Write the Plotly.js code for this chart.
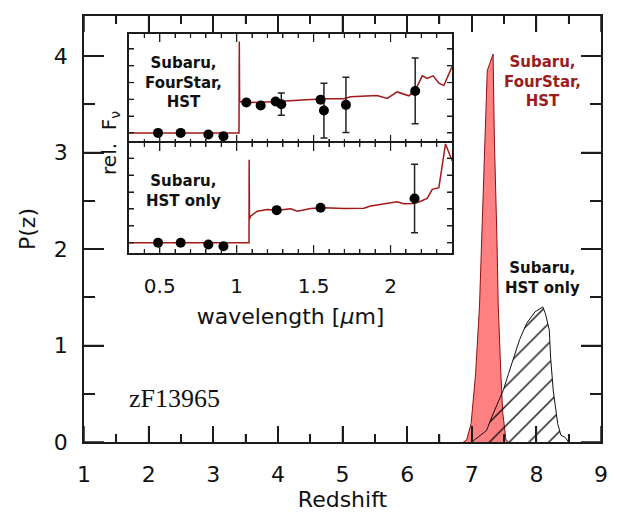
<!DOCTYPE html>
<html>
<head>
<meta charset="utf-8">
<script src="https://cdn.plot.ly/plotly-3.0.1.min.js"></script>
<style>html,body{margin:0;padding:0;background:#fff;} .modebar-container{display:none !important;}</style>
</head>
<body>
<div id="chart" style="width:617px;height:516px;"></div>
<script>
// ---- Main panel: photometric redshift probability distributions ----
const zBright = [6.87, 6.92, 6.99, 7.06, 7.12, 7.155, 7.21, 7.24, 7.33, 7.35, 7.39, 7.41, 7.45, 7.48, 7.53, 7.57];
const pzBright = [0, 0.02, 0.19, 0.71, 1.41, 2.10, 3.14, 3.85, 4.02, 3.14, 2.10, 1.41, 0.71, 0.30, 0.02, 0];

const zFaint = [7.00, 7.10, 7.23, 7.31, 7.49, 7.57, 7.65, 7.74, 7.85, 7.98, 8.10, 8.14, 8.20, 8.22, 8.26, 8.33, 8.38, 8.44, 8.50];
const pzFaint = [0, 0.05, 0.12, 0.26, 0.54, 0.71, 0.88, 1.06, 1.23, 1.35, 1.40, 1.33, 1.16, 0.88, 0.54, 0.19, 0.07, 0.05, 0];

// ---- Inset top: Subaru + FourStar + HST photometry and best-fit SED ----
const lamAll = [0.489, 0.636, 0.816, 0.914, 1.063, 1.156, 1.253, 1.29, 1.545, 1.567, 1.71, 2.16];
const fluxAll = [0, 0, -0.1, -0.2, 1.81, 1.63, 1.87, 1.71, 1.97, 1.33, 1.67, 2.50];
const errAll = [0, 0, 0, 0, 0, 0, 0, 0.66, 0, 1.63, 1.65, 1.96];

const lamModelA = [0.30, 1.015, 1.017, 1.019, 1.04, 1.091, 1.264, 1.394, 1.567, 1.697, 1.740, 1.913, 1.978, 2.043, 2.086, 2.119, 2.162, 2.206, 2.238, 2.277, 2.314, 2.346, 2.40];
const fluxModelA = [0, 0, 5.44, 1.85, 1.87, 1.81, 1.87, 1.95, 2.03, 2.03, 2.15, 2.23, 2.05, 2.44, 2.33, 2.21, 2.56, 3.40, 3.24, 3.40, 2.96, 2.82, 3.95];

// ---- Inset bottom: Subaru + HST only ----
const lamSub = [0.489, 0.636, 0.816, 0.914, 1.26, 1.545, 2.156];
const fluxSub = [0, 0, -0.1, -0.2, 1.93, 2.07, 2.62];
const errSub = [0, 0, 0, 0, 0, 0, 2.02];

const lamModelB = [0.30, 1.080, 1.081, 1.083, 1.090, 1.134, 1.199, 1.264, 1.351, 1.394, 1.481, 1.567, 1.697, 1.827, 1.870, 2.043, 2.086, 2.156, 2.195, 2.238, 2.271, 2.314, 2.357, 2.40];
const fluxModelB = [0, 0, 4.91, 1.40, 1.57, 1.87, 1.97, 1.93, 2.01, 1.87, 2.03, 2.07, 2.03, 2.05, 2.17, 2.43, 2.31, 2.33, 2.46, 2.62, 3.16, 3.26, 5.84, 4.85];

const insetTicks = ['0.5', '1', '1.5', '2'];
const insetTickVals = [0.5, 1, 1.5, 2];

const FONT = 'DejaVu Sans, Liberation Sans, sans-serif';
const DARKRED = '#9b1c1c';
const MODEL = '#a31818';
const AX = '#1c1c1c';

const X_RANGE = [1, 9], Y_RANGE = [0, 4.415];
const L_RANGE = [0.3, 2.4], F_RANGE = [-0.6, 5.9];

// ---- Frame tick marks (axis decoration) built from axis ranges and pixel lengths ----
const W = 617 - 84 - 16, H = 516 - 16 - 74;
const pxX = W / (X_RANGE[1] - X_RANGE[0]), pxY = H / (Y_RANGE[1] - Y_RANGE[0]);
const insetW = (0.712 - 0.087) * W;
const pxL = insetW / (L_RANGE[1] - L_RANGE[0]);
const pxF2 = (0.958 - 0.702) * H / (F_RANGE[1] - F_RANGE[0]);
const pxF3 = (0.702 - 0.4437) * H / (F_RANGE[1] - F_RANGE[0]);

function seg(o, x0, y0, x1, y1) { o.x.push(x0, x1, null); o.y.push(y0, y1, null); }
const mainTicks = { x: [], y: [] };
for (let k = 1; k <= 9; k++) {
  seg(mainTicks, k, Y_RANGE[0], k, Y_RANGE[0] + 16 / pxY);
  seg(mainTicks, k, Y_RANGE[1], k, Y_RANGE[1] - 16 / pxY);
  if (k < 9) {
    seg(mainTicks, k + 0.5, Y_RANGE[0], k + 0.5, Y_RANGE[0] + 8 / pxY);
    seg(mainTicks, k + 0.5, Y_RANGE[1], k + 0.5, Y_RANGE[1] - 8 / pxY);
  }
}
for (let k = 0; k <= 4; k++) {
  seg(mainTicks, X_RANGE[0], k, X_RANGE[0] + 20 / pxX, k);
  seg(mainTicks, X_RANGE[1], k, X_RANGE[1] - 20 / pxX, k);
  if (k < 4) {
    seg(mainTicks, X_RANGE[0], k + 0.5, X_RANGE[0] + 11 / pxX, k + 0.5);
    seg(mainTicks, X_RANGE[1], k + 0.5, X_RANGE[1] - 11 / pxX, k + 0.5);
  }
}
function insetTickSet(pxF) {
  const o = { x: [], y: [] };
  for (let k = 4; k <= 23; k++) {
    const v = k / 10;
    const len = (k % 5 === 0 ? 8 : 4) / pxF;
    seg(o, v, F_RANGE[0], v, F_RANGE[0] + len);
    seg(o, v, F_RANGE[1], v, F_RANGE[1] - len);
  }
  for (let k = 0; k <= 5; k++) {
    seg(o, L_RANGE[0], k, L_RANGE[0] + 5 / pxL, k);
    seg(o, L_RANGE[1], k, L_RANGE[1] - 5 / pxL, k);
  }
  return o;
}
const ticks2 = insetTickSet(pxF2), ticks3 = insetTickSet(pxF3);

const traces = [
  { x: mainTicks.x, y: mainTicks.y, type: 'scatter', mode: 'lines', line: { color: AX, width: 1.5 },
    xaxis: 'x', yaxis: 'y', hoverinfo: 'skip', showlegend: false, connectgaps: false },
  { x: ticks2.x, y: ticks2.y, type: 'scatter', mode: 'lines', line: { color: AX, width: 1.2 },
    xaxis: 'x2', yaxis: 'y2', hoverinfo: 'skip', showlegend: false, connectgaps: false },
  { x: ticks3.x, y: ticks3.y, type: 'scatter', mode: 'lines', line: { color: AX, width: 1.2 },
    xaxis: 'x3', yaxis: 'y3', hoverinfo: 'skip', showlegend: false, connectgaps: false },
  { x: zBright, y: pzBright, type: 'scatter', mode: 'lines', fill: 'tozeroy',
    fillcolor: 'rgb(255,128,128)', line: { color: '#8a1010', width: 1 },
    xaxis: 'x', yaxis: 'y', hoverinfo: 'skip', showlegend: false },
  { x: zFaint, y: pzFaint, type: 'scatter', mode: 'lines', fill: 'tozeroy',
    fillcolor: 'rgba(0,0,0,0)',
    fillpattern: { shape: '/', fgcolor: '#111', bgcolor: 'rgba(0,0,0,0)', size: 14, solidity: 0.1 },
    line: { color: '#111', width: 1 },
    xaxis: 'x', yaxis: 'y', hoverinfo: 'skip', showlegend: false },
  { x: lamModelA, y: fluxModelA, type: 'scatter', mode: 'lines',
    line: { color: MODEL, width: 1.5 }, xaxis: 'x2', yaxis: 'y2', showlegend: false },
  { x: lamAll, y: fluxAll, type: 'scatter', mode: 'markers',
    marker: { color: '#000', size: 10 },
    error_y: { type: 'data', array: errAll, visible: true, color: '#222', thickness: 1.5, width: 3.5 },
    xaxis: 'x2', yaxis: 'y2', showlegend: false },
  { x: lamModelB, y: fluxModelB, type: 'scatter', mode: 'lines',
    line: { color: MODEL, width: 1.5 }, xaxis: 'x3', yaxis: 'y3', showlegend: false },
  { x: lamSub, y: fluxSub, type: 'scatter', mode: 'markers',
    marker: { color: '#000', size: 10 },
    error_y: { type: 'data', array: errSub, visible: true, color: '#222', thickness: 1.5, width: 3.5 },
    xaxis: 'x3', yaxis: 'y3', showlegend: false }
];

function insetX() {
  return {
    range: L_RANGE, showgrid: false, zeroline: false,
    showline: true, linecolor: AX, linewidth: 1.5, mirror: 'ticks',
    ticks: 'inside', ticklen: 8, tickwidth: 1.3, tickcolor: AX,
    tickvals: insetTickVals, ticktext: insetTicks,
    minor: { dtick: 0.1, tick0: 0.3, ticks: 'inside', ticklen: 4, tickwidth: 1.2, tickcolor: AX }
  };
}
function insetY() {
  return {
    range: F_RANGE, showgrid: false, zeroline: false,
    showline: true, linecolor: AX, linewidth: 1.5, mirror: 'ticks',
    ticks: 'inside', ticklen: 5, tickwidth: 1.2, tickcolor: AX,
    dtick: 1, tick0: 0, showticklabels: false
  };
}

const layout = {
  width: 617, height: 516,
  margin: { l: 84, r: 16, t: 16, b: 74 },
  paper_bgcolor: '#fff', plot_bgcolor: '#fff',
  font: { family: FONT, color: '#111' },
  showlegend: false,
  xaxis: {
    domain: [0, 1], range: X_RANGE, showgrid: false, zeroline: false,
    showline: true, linecolor: AX, linewidth: 1.6, mirror: 'ticks',
    ticks: 'inside', ticklen: 16, tickwidth: 1.5, tickcolor: AX,
    dtick: 1, tick0: 1, ticklabelstandoff: 12,
    tickfont: { family: FONT, size: 22, color: '#111' },
    minor: { dtick: 0.5, ticks: 'inside', ticklen: 8, tickwidth: 1.5, tickcolor: AX },
    title: { text: 'Redshift', font: { family: FONT, size: 22, color: '#111' }, standoff: 4 }
  },
  yaxis: {
    domain: [0, 1], range: Y_RANGE, showgrid: false, zeroline: false,
    showline: true, linecolor: AX, linewidth: 1.6, mirror: 'ticks',
    ticks: 'inside', ticklen: 20, tickwidth: 1.5, tickcolor: AX,
    dtick: 1, tick0: 0, ticklabelstandoff: 10,
    tickfont: { family: FONT, size: 22, color: '#111' },
    minor: { dtick: 0.5, ticks: 'inside', ticklen: 11, tickwidth: 1.5, tickcolor: AX },
    title: { text: 'P(z)', font: { family: FONT, size: 22, color: '#111' }, standoff: 12 }
  },
  xaxis2: Object.assign(insetX(), { domain: [0.087, 0.712], anchor: 'y2', showticklabels: false }),
  yaxis2: Object.assign(insetY(), { domain: [0.702, 0.958], anchor: 'x2' }),
  xaxis3: Object.assign(insetX(), {
    domain: [0.087, 0.712], anchor: 'y3', showticklabels: true,
    ticklabelstandoff: 14,
    tickfont: { family: FONT, size: 20, color: '#111' },
    title: { text: 'wavelength [<i>µ</i>m]', font: { family: FONT, size: 22, color: '#111' }, standoff: 12 }
  }),
  yaxis3: Object.assign(insetY(), { domain: [0.4437, 0.702], anchor: 'x3' }),
  annotations: [
    { xref: 'paper', yref: 'paper', x: 0.0503, y: 0.702, text: 'rel.  F<sub>ν</sub>',
      textangle: -90, showarrow: false, xanchor: 'center', yanchor: 'middle',
      font: { family: FONT, size: 20, color: '#111' } },
    { xref: 'paper', yref: 'paper', x: 0.1915, y: 0.845, text: 'Subaru,<br>FourStar,<br>HST',
      showarrow: false, xanchor: 'center', yanchor: 'middle', align: 'center',
      font: { family: FONT, size: 15, color: '#111', weight: 'bold' } },
    { xref: 'paper', yref: 'paper', x: 0.1915, y: 0.589, text: 'Subaru,<br>HST only',
      showarrow: false, xanchor: 'center', yanchor: 'middle', align: 'center',
      font: { family: FONT, size: 15, color: '#111', weight: 'bold' } },
    { xref: 'paper', yref: 'paper', x: 0.886, y: 0.846, text: 'Subaru,<br>FourStar,<br>HST',
      showarrow: false, xanchor: 'center', yanchor: 'middle', align: 'center',
      font: { family: FONT, size: 15, color: DARKRED, weight: 'bold' } },
    { xref: 'paper', yref: 'paper', x: 0.886, y: 0.385, text: 'Subaru,<br>HST only',
      showarrow: false, xanchor: 'center', yanchor: 'middle', align: 'center',
      font: { family: FONT, size: 15, color: '#111', weight: 'bold' } },
    { xref: 'paper', yref: 'paper', x: 0.176, y: 0.103, text: 'zF13965',
      showarrow: false, xanchor: 'center', yanchor: 'middle',
      font: { family: 'Liberation Serif, DejaVu Serif, serif', size: 26, color: '#111' } }
  ]
};

Plotly.newPlot('chart', traces, layout);
</script>
</body>
</html>
